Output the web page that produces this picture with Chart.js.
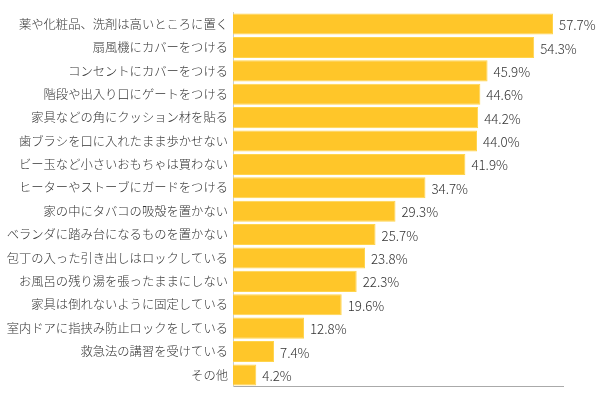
<!DOCTYPE html>
<html>
<head>
<meta charset="utf-8">
<script src="https://cdn.jsdelivr.net/npm/chart.js@4"></script>
<style>
  html, body { margin: 0; padding: 0; background: #fff; }
  #wrap { width: 605px; height: 399px; }
</style>
</head>
<body>
<div id="wrap"><canvas id="myChart" width="605" height="399"></canvas></div>
<script>
// answers (percent)
var labels = [
    '薬や化粧品、洗剤は高いところに置く',
    '扇風機にカバーをつける',
    'コンセントにカバーをつける',
    '階段や出入り口にゲートをつける',
    '家具などの角にクッション材を貼る',
    '歯ブラシを口に入れたまま歩かせない',
    'ビー玉など小さいおもちゃは買わない',
    'ヒーターやストーブにガードをつける',
    '家の中にタバコの吸殻を置かない',
    'ベランダに踏み台になるものを置かない',
    '包丁の入った引き出しはロックしている',
    'お風呂の残り湯を張ったままにしない',
    '家具は倒れないように固定している',
    '室内ドアに指挟み防止ロックをしている',
    '救急法の講習を受けている',
    'その他'
];
var values = [57.7, 54.3, 45.9, 44.6, 44.2, 44.0, 41.9, 34.7, 29.3, 25.7, 23.8, 22.3, 19.6, 12.8, 7.4, 4.2];

var FONT = '"Noto Sans CJK JP", "Noto Sans", sans-serif';

// percent text at the end of each bar
var valueLabels = {
    id: 'valueLabels',
    afterDatasetsDraw: function (chart) {
        var ctx = chart.ctx;
        var meta = chart.getDatasetMeta(0);
        ctx.save();
        ctx.font = '300 13.3px ' + FONT;
        ctx.fillStyle = '#333';
        ctx.textAlign = 'left';
        ctx.textBaseline = 'middle';
        meta.data.forEach(function (bar, i) {
            ctx.fillText(values[i].toFixed(1) + '%', bar.x + 6, bar.y + 1);
        });
        ctx.restore();
    }
};

var ctx = document.getElementById('myChart').getContext('2d');
var myChart = new Chart(ctx, {
    type: 'bar',
    data: {
        labels: labels,
        datasets: [{
            data: values,
            backgroundColor: '#FFC629',
            borderColor: '#FFD44C',
            borderWidth: 1,
            barPercentage: 1,
            categoryPercentage: 0.9
        }]
    },
    options: {
        indexAxis: 'y',
        responsive: false,
        animation: false,
        layout: { padding: { top: 9, right: 42, bottom: 8, left: 0 } },
        plugins: {
            legend: { display: false },
            tooltip: { enabled: false }
        },
        scales: {
            x: {
                min: 0,
                max: 59.5,
                ticks: { display: false },
                grid: { display: false, drawTicks: false },
                border: { display: true, color: '#aaa', width: 1 },
                afterFit: function (scale) { scale.height = 0; }
            },
            y: {
                ticks: {
                    color: '#333',
                    padding: 5,
                    autoSkip: false,
                    font: { family: FONT, size: 12.3, weight: 300 }
                },
                grid: { display: false, drawTicks: false },
                border: { display: true, color: '#ccc', width: 1 },
                afterFit: function (scale) { scale.width = 233; }
            }
        }
    },
    plugins: [valueLabels]
});
</script>
</body>
</html>
